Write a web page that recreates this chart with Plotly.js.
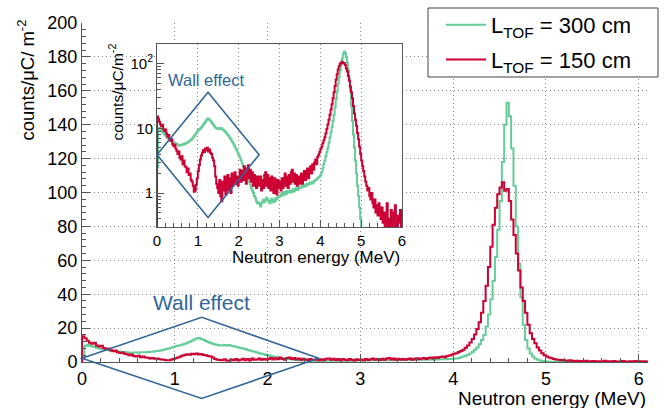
<!DOCTYPE html>
<html><head><meta charset="utf-8">
<script src="https://cdn.plot.ly/plotly-3.0.1.min.js"></script>
<style>html,body{margin:0;padding:0;background:#fff}#chart{width:671px;height:408px}</style>
</head><body><div id="chart"></div>
<script>
// Histogram bin width in MeV (bins start at 0 MeV)
const binWidth = 0.025;

// L_TOF = 300 cm, counts/uC/m^2 per bin (0 - 6.1 MeV)
const greenCounts = [
  2.5, 9.5, 10.2, 9.6, 9.1, 8.8, 8.4, 8.0, 7.7, 7.4, 7.1, 6.9, 6.7, 6.5, 6.3, 6.2, 6.0, 5.9, 5.9, 5.7,
  5.5, 5.4, 5.6, 5.6, 5.5, 5.7, 5.8, 5.7, 5.9, 6.0, 6.1, 6.3, 6.5, 6.6, 6.9, 7.2, 7.6, 8.0, 8.4, 8.9,
  9.3, 9.6, 9.9, 10.3, 10.8, 11.4, 12.0, 12.6, 13.3, 13.8, 14.2, 13.6, 13.1, 12.4, 11.8, 11.2, 10.7, 10.3, 10.0, 9.8,
  9.9, 10.1, 9.8, 10.0, 9.6, 9.3, 9.0, 8.6, 8.3, 7.9, 7.6, 7.1, 6.8, 6.3, 6.0, 5.6, 5.2, 4.8, 4.5, 4.1,
  3.8, 3.5, 3.2, 2.9, 2.6, 2.4, 2.2, 2.0, 1.8, 1.7, 1.5, 1.35, 1.2, 1.1, 1.0, 0.9, 0.85, 0.75, 0.7, 0.72,
  0.68, 0.62, 0.7, 0.75, 0.8, 0.72, 0.78, 0.85, 0.8, 0.74, 0.7, 0.76, 0.82, 0.72, 0.78, 0.74, 0.84, 0.8, 0.86, 0.9,
  0.88, 0.95, 1.0, 0.92, 1.05, 1.0, 0.96, 1.08, 1.02, 1.05, 1.1, 1.02, 1.1, 1.15, 1.06, 1.12, 1.2, 1.12, 1.16, 1.22,
  1.2, 1.26, 1.3, 1.24, 1.3, 1.36, 1.3, 1.4, 1.36, 1.42, 1.46, 1.4, 1.5, 1.46, 1.55, 1.6, 1.62, 1.7, 1.75, 1.8,
  1.9, 2.1, 2.4, 2.8, 3.2, 3.7, 4.3, 5.0, 6.0, 7.2, 8.6, 10.5, 13, 16, 21, 28, 37, 48, 62, 78,
  95, 118, 140, 153, 145, 126, 104, 80, 58, 38, 22, 13, 8, 5, 3.2, 2.0, 1.3, 0.9, 0.6, 0.4,
  0.28, 0.22, 0.18, 0.15, 0.12, 0.1, 0.1, 0.08, 0.08, 0.06, 0.06, 0.05, 0.05, 0.05, 0.04, 0.04, 0.04, 0.03, 0.03, 0.03,
  0.03, 0.02, 0.03, 0.02, 0.02, 0.03, 0.02, 0.02, 0.02, 0.03, 0.02, 0.02, 0.02, 0.02, 0.03, 0.02, 0.02, 0.02, 0.02, 0.02,
  0.02, 0.02, 0.02, 0.02
];

// L_TOF = 150 cm, counts/uC/m^2 per bin (0 - 6.1 MeV)
const redCounts = [
  15.2, 14.0, 12.6, 11.4, 10.8, 11.3, 9.7, 9.1, 9.6, 8.3, 7.5, 7.9, 6.9, 6.4, 6.8, 5.7, 5.3, 5.6, 4.9, 4.5,
  4.0, 4.4, 3.5, 3.3, 3.7, 2.8, 3.2, 2.6, 2.5, 2.1, 2.4, 1.9, 2.0, 1.6, 1.5, 1.3, 1.05, 1.1, 1.35, 1.7,
  2.2, 2.7, 3.3, 3.8, 4.2, 4.6, 4.3, 4.9, 4.6, 5.0, 4.4, 4.7, 4.2, 4.0, 3.5, 3.2, 2.6, 1.8, 1.4, 1.2,
  1.0, 1.6, 0.9, 0.75, 1.5, 1.1, 1.8, 0.95, 1.4, 1.9, 1.1, 1.7, 1.0, 2.0, 1.3, 1.5, 2.1, 1.4, 1.8, 1.3,
  1.7, 2.3, 1.5, 2.2, 1.6, 2.6, 1.8, 1.4, 2.4, 2.7, 1.7, 2.3, 1.5, 2.1, 1.3, 1.9, 1.5, 1.2, 1.8, 1.4,
  1.3, 1.8, 1.1, 1.6, 1.2, 1.9, 2.1, 1.3, 1.9, 1.2, 1.7, 1.1, 1.8, 1.4, 1.0, 1.7, 1.3, 0.95, 1.6, 1.2,
  1.5, 1.1, 1.7, 1.2, 1.6, 2.0, 1.3, 1.8, 1.2, 1.9, 1.4, 2.1, 2.3, 1.5, 2.0, 1.4, 1.9, 1.3, 1.8, 1.4,
  1.7, 2.0, 1.4, 1.9, 2.2, 1.6, 2.1, 2.4, 1.7, 2.3, 2.6, 2.0, 2.8, 2.3, 3.0, 3.3, 2.8, 3.6, 3.9, 4.3,
  4.8, 5.2, 5.9, 6.5, 7.3, 8.4, 9.8, 11.5, 13.6, 16.2, 19.5, 23.5, 29, 36, 45, 56, 68, 81, 91, 99,
  103, 106, 101, 102, 95, 84, 75, 64, 54, 44, 36, 29, 22, 17, 13.5, 11, 8.5, 6.8, 5.2, 4.0,
  3.2, 2.6, 2.2, 1.8, 1.5, 1.3, 1.1, 1.2, 0.9, 0.8, 1.0, 0.7, 0.6, 0.8, 0.5, 0.65, 0.45, 0.7, 0.5, 0.4,
  0.6, 0.35, 0.5, 0.25, 0.45, 0.7, 0.3, 0.4, 0.2, 0.55, 0.35, 0.25, 0.5, 0.65, 0.3, 0.2, 0.45, 0.35, 0.55, 0.25,
  0.4, 0.3, 0.5, 0.35
];

const seriesNames = ['L<sub>TOF</sub> = 300 cm', 'L<sub>TOF</sub> = 150 cm'];
const seriesColors = ['#66cc99', '#cc0033'];
const wallColor = '#336699';
const wallLabel = 'Wall effect';

// "Wall effect" diamonds: corner points (energy MeV, counts)
const wallMainE = [0, 1.29, 2.55, 1.29];
const wallMainV = [2.2, 26.4, 2.2, -21.5];
const wallInsetE = [0, 1.25, 2.5, 1.25];
const wallInsetV = [3.9, 36, 3.9, 0.42];

const mainXRange = [0, 6.1];
const mainYRange = [0, 200];
const insetXRange = [0, 6];
const insetYRange = [0.3, 200];
const insetYTickVals = [1, 10, 100];
const insetYTickText = ['1', '10', '10<sup>2</sup>'];

const W = 671, H = 408;
const FONT = 'Liberation Sans, Arial, Helvetica, sans-serif';

function edges(n) { const e = []; for (let i = 0; i <= n; i++) e.push(+(i * binWidth).toFixed(4)); return e; }
function stepXY(counts, base) {
  const e = edges(counts.length);
  return { x: [0].concat(e), y: [base].concat(counts, [counts[counts.length - 1]]) };
}
const series = [greenCounts, redCounts];
const traces = [];
series.forEach((c, i) => {
  const s = stepXY(c, 0);
  traces.push({ x: s.x, y: s.y, xaxis: 'x', yaxis: 'y', type: 'scatter', mode: 'lines', legendgroup: 'g' + i,
    line: { shape: 'hv', color: seriesColors[i], width: 2 }, name: seriesNames[i], showlegend: true, hoverinfo: 'skip' });
});
series.forEach((c, i) => {
  const s = stepXY(c, 0.01);
  traces.push({ x: s.x, y: s.y, xaxis: 'x2', yaxis: 'y2', type: 'scatter', mode: 'lines', legendgroup: 'g' + i,
    line: { shape: 'hv', color: seriesColors[i], width: 2 }, name: seriesNames[i], showlegend: false, hoverinfo: 'skip' });
});

function fracLin(v, r) { return (v - r[0]) / (r[1] - r[0]); }
function fracLog(v, r) { return (Math.log10(v) - Math.log10(r[0])) / (Math.log10(r[1]) - Math.log10(r[0])); }
function diamondPath(E, V, xr, yr, logY) {
  let p = '';
  for (let i = 0; i < E.length; i++) {
    const fx = fracLin(E[i], xr), fy = logY ? fracLog(V[i], yr) : fracLin(V[i], yr);
    p += (i === 0 ? 'M' : 'L') + fx.toFixed(5) + ',' + fy.toFixed(5);
  }
  return p + 'Z';
}

const minorLog = [];
[0.1, 1, 10, 100].forEach(d => { for (let m = 2; m <= 9; m++) { const v = m * d; if (v >= insetYRange[0] && v <= insetYRange[1]) minorLog.push(+v.toFixed(3)); } });

const axisCol = '#555';
const gridDash = '1px,3px';
const layout = {
  width: W, height: H, margin: { l: 0, r: 0, t: 0, b: 0 },
  paper_bgcolor: 'white', plot_bgcolor: 'white',
  font: { family: FONT, size: 18, color: 'black' },
  showlegend: true,
  xaxis: { domain: [82 / W, 648 / W], range: mainXRange, anchor: 'y', tick0: 0, dtick: 1,
    ticks: 'inside', ticklen: 8, tickcolor: axisCol, showline: true, linecolor: axisCol, linewidth: 1,
    showgrid: true, gridcolor: '#888', griddash: gridDash, zeroline: false, tickfont: { size: 18 },
    minor: { ticks: 'inside', ticklen: 4, dtick: 0.2, tick0: 0, tickcolor: axisCol, showgrid: false } },
  yaxis: { domain: [46 / H, 385 / H], range: mainYRange, anchor: 'x', tick0: 0, dtick: 20,
    ticks: 'inside', ticklen: 8, tickcolor: axisCol, showline: true, linecolor: axisCol, linewidth: 1,
    showgrid: true, gridcolor: '#888', griddash: gridDash, zeroline: false, tickfont: { size: 18 },
    minor: { ticks: 'inside', ticklen: 4, dtick: 4, tick0: 0, tickcolor: axisCol, showgrid: false } },
  xaxis2: { domain: [157 / W, 402 / W], range: insetXRange, anchor: 'y2', tick0: 0, dtick: 1,
    ticks: 'inside', ticklen: 7, tickcolor: axisCol, showline: true, mirror: true, linecolor: axisCol, linewidth: 1,
    showgrid: true, gridcolor: '#888', griddash: gridDash, zeroline: false, tickfont: { size: 15 },
    minor: { ticks: 'inside', ticklen: 4, dtick: 0.2, tick0: 0, tickcolor: axisCol, showgrid: false } },
  yaxis2: { domain: [181 / H, 364 / H], type: 'log', range: [Math.log10(insetYRange[0]), Math.log10(insetYRange[1])], anchor: 'x2',
    tickmode: 'array', tickvals: insetYTickVals, ticktext: insetYTickText,
    ticks: 'inside', ticklen: 7, tickcolor: axisCol, showline: true, mirror: true, linecolor: axisCol, linewidth: 1,
    showgrid: false, zeroline: false, tickfont: { size: 15 },
    minor: { ticks: 'inside', ticklen: 4, tickmode: 'array', tickvals: minorLog, tickcolor: axisCol, showgrid: false } },
  legend: { x: 441 / W, y: 1 - 4 / H, xanchor: 'left', yanchor: 'top', bgcolor: 'rgba(0,0,0,0)',
    borderwidth: 0, font: { size: 22, family: FONT }, itemwidth: 40, tracegroupgap: 3 },
  shapes: [
    { type: 'rect', xref: 'paper', yref: 'paper', x0: 428 / W, x1: 658 / W, y0: 1 - 77 / H, y1: 1 - 8 / H,
      line: { color: '#444', width: 1 }, fillcolor: 'white', layer: 'above' },
    { type: 'path', xref: 'x domain', yref: 'y domain', path: diamondPath(wallMainE, wallMainV, mainXRange, mainYRange, false),
      line: { color: wallColor, width: 1.6 }, fillcolor: 'rgba(0,0,0,0)', layer: 'above' },
    { type: 'path', xref: 'x2 domain', yref: 'y2 domain', path: diamondPath(wallInsetE, wallInsetV, insetXRange, insetYRange, true),
      line: { color: wallColor, width: 1.6 }, fillcolor: 'rgba(0,0,0,0)', layer: 'above' }
  ],
  annotations: [
    { text: 'Neutron energy (MeV)', xref: 'paper', yref: 'paper', x: 648 / W, y: 1 - 398 / H, xanchor: 'right', yanchor: 'middle',
      showarrow: false, font: { size: 19 } },
    { text: 'counts/μC/ m<sup>-2</sup>', xref: 'paper', yref: 'paper', x: 27 / W, y: 1 - 18 / H, xanchor: 'center', yanchor: 'top',
      textangle: -90, showarrow: false, font: { size: 18.5 } },
    { text: 'Neutron energy (MeV)', xref: 'paper', yref: 'paper', x: 402 / W, y: 1 - 257 / H, xanchor: 'right', yanchor: 'middle',
      showarrow: false, font: { size: 17 } },
    { text: 'counts/μC/m<sup>-2</sup>', xref: 'paper', yref: 'paper', x: 117 / W, y: 1 - 42 / H, xanchor: 'center', yanchor: 'top',
      textangle: -90, showarrow: false, font: { size: 15.5 } },
    { text: wallLabel, xref: 'x', yref: 'y', x: 1.29, y: 35, showarrow: false, font: { size: 21, color: wallColor } },
    { text: wallLabel, xref: 'x2', yref: 'y2', x: 1.22, y: Math.log10(55), showarrow: false, font: { size: 16.5, color: wallColor } }
  ]
};

Plotly.newPlot('chart', traces, layout, { staticPlot: true, displayModeBar: false });
</script>
</body></html>
